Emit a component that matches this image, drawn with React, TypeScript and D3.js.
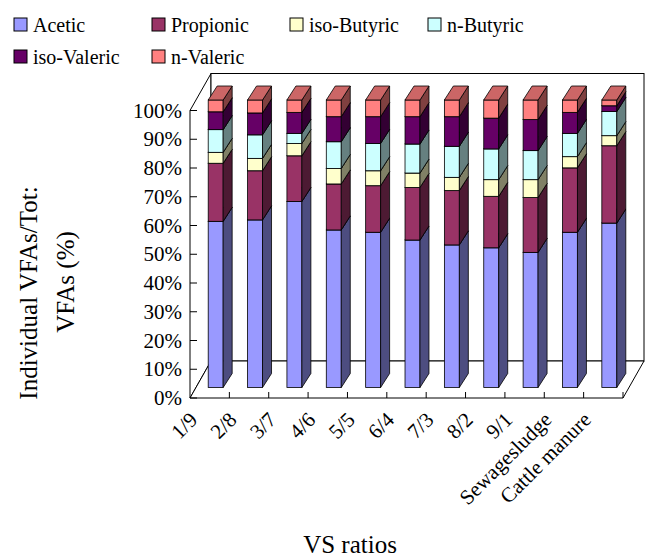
import React from "react";
import * as d3 from "d3";

const categories = ["1/9", "2/8", "3/7", "4/6", "5/5", "6/4", "7/3", "8/2", "9/1", "Sewagesludge", "Cattle manure"];
const seriesNames = ["Acetic", "Propionic", "iso-Butyric", "n-Butyric", "iso-Valeric", "n-Valeric"];
const acetic = [57.8, 58.3, 64.7, 54.8, 54.0, 51.3, 49.6, 48.6, 47.0, 54.0, 57.2];
const propionic = [20.2, 17.1, 15.9, 16.0, 16.2, 18.3, 18.9, 17.9, 19.1, 22.4, 26.9];
const isoButyric = [3.8, 4.3, 4.3, 5.4, 5.2, 5.0, 4.6, 5.8, 6.2, 3.9, 3.5];
const nButyric = [7.9, 8.2, 3.5, 9.3, 9.5, 10.1, 10.8, 10.7, 10.1, 8.1, 8.4];
const isoValeric = [6.2, 7.6, 7.3, 8.7, 9.3, 9.5, 10.3, 10.7, 10.8, 7.3, 2.0];
const nValeric = [4.1, 4.5, 4.3, 5.8, 5.8, 5.8, 5.8, 6.3, 6.8, 4.3, 2.0];
const yTicks = [0, 10, 20, 30, 40, 50, 60, 70, 80, 90, 100];
const colors = ["#9999FF", "#993366", "#FFFFCC", "#CCFFFF", "#660066", "#FF8080"];

const W = 651, H = 558;
const FONT = "'Liberation Serif', 'Times New Roman', serif";

function shade(c: string, k: number) {
  const col = d3.rgb(c);
  return d3.rgb(col.r * k, col.g * k, col.b * k).formatHex();
}

export default function App() {
  const seriesValues = [acetic, propionic, isoButyric, nButyric, isoValeric, nValeric];
  const rows = categories.map((c, i) => {
    const r: any = { cat: c };
    seriesNames.forEach((s, j) => (r[s] = seriesValues[j][i]));
    return r;
  });
  const stacked = d3.stack<any>().keys(seriesNames).offset(d3.stackOffsetExpand)(rows);

  const x0 = 190, x1 = 623;
  const x = d3.scaleBand<string>().domain(categories).range([x0, x1]).paddingInner(0.62).paddingOuter(0.31);
  const y = d3.scaleLinear().domain([0, 1]).range([398, 110.5]);
  const yPct = d3.scaleLinear().domain([0, 100]).range([398, 110.5]);

  const WDX = 21, WDY = -37;
  const BFX = 6, BFY = -10.5;
  const BDX = 9, BDY = -14;

  const yTop = yPct(100), yBot = yPct(0);
  const pts = (a: number[][]) => a.map((p) => p.join(",")).join(" ");
  const stroke = "#000";

  const bars: React.ReactNode[] = [];
  categories.forEach((c, i) => {
    const bx = (x(c) as number) + BFX;
    const bw = x.bandwidth();
    stacked.forEach((s, j) => {
      const d = s[i];
      const yb = y(d[0]) + BFY;
      const yt = y(d[1]) + BFY;
      const col = colors[j];
      bars.push(
        <g key={`b-${i}-${j}`}>
          <rect x={bx} y={yt} width={bw} height={yb - yt} fill={col} stroke={stroke} strokeWidth={0.8} />
          <polygon
            points={pts([[bx + bw, yb], [bx + bw + BDX, yb + BDY], [bx + bw + BDX, yt + BDY], [bx + bw, yt]])}
            fill={shade(col, 0.5)}
            stroke={stroke}
            strokeWidth={0.8}
          />
          <polygon
            points={pts([[bx, yt], [bx + bw, yt], [bx + bw + BDX, yt + BDY], [bx + BDX, yt + BDY]])}
            fill={shade(col, 0.8)}
            stroke={stroke}
            strokeWidth={0.8}
          />
        </g>
      );
    });
  });

  const legendCols = 4;
  return (
    <svg width={W} height={H} style={{ position: "absolute", left: 0, top: 0, background: "#fff" }}>
      <rect x={0} y={0} width={W} height={H} fill="#fff" />
      {seriesNames.map((s, j) => {
        const col = j % legendCols, row = Math.floor(j / legendCols);
        const lx = 14 + col * 138, ly = 18 + row * 32;
        return (
          <g key={s}>
            <rect x={lx} y={ly} width={13} height={13} fill={colors[j]} stroke="#000" strokeWidth={1} />
            <text x={lx + 19} y={ly + 13.5} fontSize={20} fontFamily={FONT}>{s}</text>
          </g>
        );
      })}
      <polygon points={pts([[x0, yTop], [x0 + WDX, yTop + WDY], [x0 + WDX, yBot + WDY], [x0, yBot]])} fill="#fff" stroke={stroke} strokeWidth={1} />
      <rect x={x0 + WDX} y={yTop + WDY} width={x1 - x0} height={yBot - yTop} fill="#fff" stroke={stroke} strokeWidth={1} />
      <polygon points={pts([[x0, yBot], [x1, yBot], [x1 + WDX, yBot + WDY], [x0 + WDX, yBot + WDY]])} fill="#fff" stroke={stroke} strokeWidth={1} />
      {yTicks.map((t) => (
        <g key={t}>
          <line x1={x0} x2={x0 + 7} y1={yPct(t)} y2={yPct(t)} stroke={stroke} strokeWidth={1} />
          <text x={182} y={yPct(t)} textAnchor="end" dominantBaseline="central" fontSize={21} fontFamily={FONT}>{t}%</text>
        </g>
      ))}
      {categories.map((c) => {
        const tx = (x(c) as number) + x.bandwidth() / 2 + x.step() / 2;
        return <line key={c} x1={tx} x2={tx} y1={yBot - 6} y2={yBot} stroke={stroke} strokeWidth={1} />;
      })}
      {bars}
      {categories.map((c) => {
        const cx = (x(c) as number) + x.bandwidth() / 2 - 11;
        const cy = 421;
        return (
          <text key={c} x={cx} y={cy} transform={`rotate(-45 ${cx} ${cy})`} textAnchor="end" fontSize={21} fontFamily={FONT}>{c}</text>
        );
      })}
      <text transform="translate(37,293) rotate(-90)" textAnchor="middle" fontSize={25} fontFamily={FONT}>Individual VFAs/Tot:</text>
      <text transform="translate(74,282) rotate(-90)" textAnchor="middle" fontSize={25} fontFamily={FONT}>VFAs (%)</text>
      <text x={350} y={553} textAnchor="middle" fontSize={25} fontFamily={FONT}>VS ratios</text>
    </svg>
  );
}
